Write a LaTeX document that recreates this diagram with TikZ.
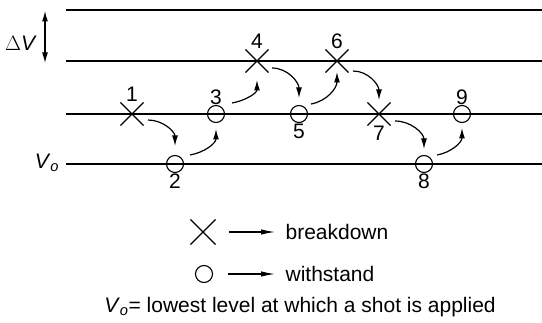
\documentclass[tikz,border=0pt]{standalone}
\usepackage{fontspec}
\setmainfont{Liberation Sans}
\usetikzlibrary{arrows.meta}
\usetikzlibrary{shapes.misc}

\tikzset{
    brk/.style={draw,cross out,minimum size=22pt,inner sep=0pt,line width=1.1pt,label distance=0pt},
    wst/.style={draw,circle,minimum size=17pt,inner sep=0pt,line width=1.1pt,label distance=2pt},
    every label/.style={inner sep=0pt},
    txt/.style={inner sep=0pt}
}

\begin{document}
\begin{tikzpicture}[x=1pt,y=1pt,font=\fontsize{21}{25}\selectfont,
        >={Latex[length=10.5pt,width=6pt]},line width=1.2pt]
        \useasboundingbox (0,0) rectangle (542,-323);
        % voltage levels
        \foreach \y in {10,61,114,164}{
            \draw (66,-\y) -- (542,-\y);
        }
        \coordinate (dvtop) at (45,-11);
        \coordinate (dvbot) at (45,-63);
        \draw[<->] (dvtop) -- (dvbot);
        \node[txt] (dv) at (21,-43) {\(\Delta\)\textit{V}};
        \node[txt] (vo) at (47,-163) {\textit{V}\textsubscript{\textit{o}}};
        % shots
        \node[brk,label=above:1] (s1) at (132,-114) {};
        \node[wst,label=below:2] (s2) at (175,-164) {};
        \node[wst,label=above:3] (s3) at (216,-114) {};
        \node[brk,label=above:4] (s4) at (257,-61) {};
        \node[wst,label=below:5] (s5) at (299,-114) {};
        \node[brk,label=above:6] (s6) at (337,-61) {};
        \node[brk,label=below:7] (s7) at (379,-114) {};
        \node[wst,label=below:8] (s8) at (424,-164) {};
        \node[wst,label=above:9] (s9) at (462,-114) {};
        \draw[->] ([shift={(16,-6)}]s1.center) to[out=0,in=90] ([yshift=18pt]s2.center);
        \draw[->] ([shift={(15,9)}]s2.center) to[out=10,in=-90] ([yshift=-15pt]s3.center);
        \draw[->] ([shift={(16,11)}]s3.center) to[out=10,in=-90] ([yshift=-19pt]s4.center);
        \draw[->] ([shift={(15,-7)}]s4.center) to[out=0,in=90] ([yshift=16pt]s5.center);
        \draw[->] ([shift={(12,10)}]s5.center) to[out=10,in=-90] ([yshift=-11pt]s6.center);
        \draw[->] ([shift={(16,-10)}]s6.center) to[out=0,in=90] ([yshift=14pt]s7.center);
        \draw[->] ([shift={(16,-7)}]s7.center) to[out=0,in=90] ([yshift=15pt]s8.center);
        \draw[->] ([shift={(13,9)}]s8.center) to[out=10,in=-90] ([yshift=-14pt]s9.center);
        % legend
        \node[brk,minimum size=24pt] (kb) at (203,-232) {};
        \node[txt,anchor=west] (tb) at (285,-232) {breakdown};
        \node[wst] (kw) at (204,-274) {};
        \node[txt,anchor=west] (tw) at (285,-274) {withstand};
        \draw[-{Latex[length=14pt,width=5.5pt]},shorten <=13pt,shorten >=10pt] (kb) -- (tb);
        \draw[-{Latex[length=14pt,width=5.5pt]},shorten <=15pt,shorten >=10pt] (kw) -- (tw);
        \node[txt] (note) at (300,-307) {\textit{V}\textsubscript{\textit{o}}= lowest level at which a shot is applied};
\end{tikzpicture}
\end{document}
